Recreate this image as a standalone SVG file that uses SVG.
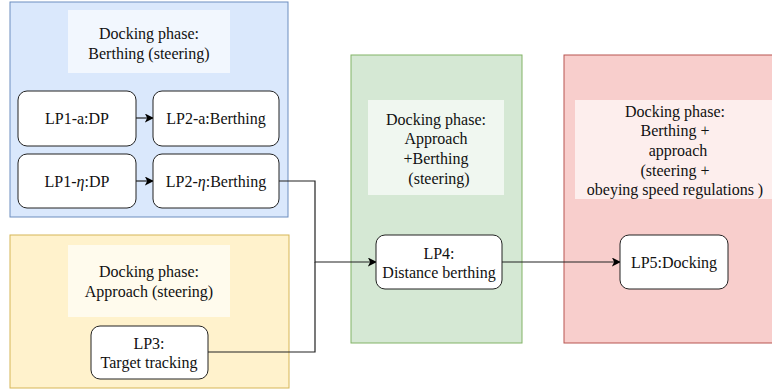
<svg xmlns="http://www.w3.org/2000/svg" width="772" height="389" viewBox="0 0 772 389" font-family="Liberation Serif, Times New Roman, serif">
<style>
text{font-size:16px;fill:#111;text-anchor:middle}
.lbl{fill:#fff;fill-opacity:0.65;stroke:none}
.node{fill:#fff;stroke:#222;stroke-width:1}
.conn{fill:none;stroke:#222;stroke-width:1.2}
</style>
<defs>
<marker id="arr" viewBox="0 0 10 10" refX="9" refY="5" markerWidth="9" markerHeight="9" markerUnits="userSpaceOnUse" orient="auto">
<path d="M0,0 L10,5 L0,10 L2.5,5 Z" fill="#000"/>
</marker>
</defs>
<rect width="772" height="389" fill="#fff"/>
<g id="group-berthing">
<rect x="10" y="2" width="278" height="215" fill="#dae8fc" stroke="#6c8ebf"/>
<rect class="lbl" x="68" y="10" width="162" height="63"/>
<text x="149" y="39">Docking phase:</text>
<text x="149" y="59">Berthing (steering)</text>
</g>
<g id="group-approach">
<rect x="10" y="235" width="279" height="153" fill="#fff2cc" stroke="#d6b656"/>
<rect class="lbl" x="68" y="245" width="162" height="72"/>
<text x="149" y="277">Docking phase:</text>
<text x="149" y="297">Approach (steering)</text>
</g>
<g id="group-approach-berthing">
<rect x="351" y="55" width="171" height="288" fill="#d5e8d4" stroke="#82b366"/>
<rect class="lbl" x="368" y="100" width="136" height="95"/>
<text x="436" y="125">Docking phase:</text>
<text x="436" y="144">Approach</text>
<text x="436" y="164">+Berthing</text>
<text x="439" y="184">(steering)</text>
</g>
<g id="group-docking">
<rect x="564" y="55" width="212" height="288" fill="#f8cecc" stroke="#b85450"/>
<rect class="lbl" x="575" y="100" width="197" height="99"/>
<text x="675" y="117">Docking phase:</text>
<text x="675" y="136">Berthing +</text>
<text x="678" y="156">approach</text>
<text x="675" y="176">(steering +</text>
<text x="675" y="195">obeying speed regulations )</text>
</g>
<g id="connectors">
<path class="conn" d="M136,118 L153,118" marker-end="url(#arr)"/>
<path class="conn" d="M136,181 L153,181" marker-end="url(#arr)"/>
<path class="conn" d="M279,181 L315,181 L315,262 L376,262" marker-end="url(#arr)"/>
<path class="conn" d="M208,352 L315,352 L315,262"/>
<path class="conn" d="M502,262 L620,262" marker-end="url(#arr)"/>
</g>
<g id="LP1a">
<rect class="node" x="18" y="91" width="118" height="55" rx="9"/>
<text x="77" y="124">LP1-a:DP</text>
</g>
<g id="LP2a">
<rect class="node" x="153" y="91" width="126" height="55" rx="9"/>
<text x="216" y="124">LP2-a:Berthing</text>
</g>
<g id="LP1eta">
<rect class="node" x="18" y="154" width="118" height="54" rx="9"/>
<text x="77" y="187">LP1-<tspan font-style="italic">η</tspan>:DP</text>
</g>
<g id="LP2eta">
<rect class="node" x="153" y="154" width="126" height="54" rx="9"/>
<text x="216" y="187">LP2-<tspan font-style="italic">η</tspan>:Berthing</text>
</g>
<g id="LP3">
<rect class="node" x="91" y="326" width="117" height="53" rx="9"/>
<text x="149" y="349">LP3:</text>
<text x="149" y="368">Target tracking</text>
</g>
<g id="LP4">
<rect class="node" x="376" y="235" width="126" height="54" rx="9"/>
<text x="439" y="259">LP4:</text>
<text x="439" y="278">Distance berthing</text>
</g>
<g id="LP5">
<rect class="node" x="620" y="235" width="108" height="54" rx="9"/>
<text x="674" y="268">LP5:Docking</text>
</g>
</svg>
